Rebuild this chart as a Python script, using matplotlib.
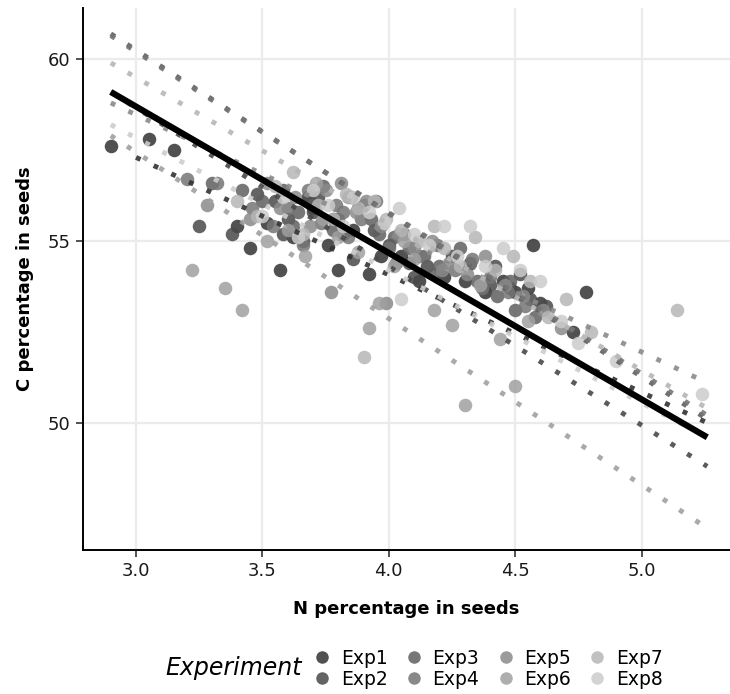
import matplotlib
matplotlib.use("Agg")
import matplotlib.pyplot as plt
from matplotlib.lines import Line2D

# experiments and their grey shades
experiments = ["Exp1", "Exp2", "Exp3", "Exp4", "Exp5", "Exp6", "Exp7", "Exp8"]
greys = ["#333333", "#494949", "#5f5f5f", "#757575", "#8a8a8a", "#a0a0a0", "#b6b6b6", "#cccccc"]

# seed N (%) and C (%) per experiment
exp1_n = [2.90, 3.05, 3.15, 3.40, 3.45, 3.57, 3.62, 3.70, 3.76, 3.80, 3.86, 3.92, 3.97, 4.05,
          4.12, 4.22, 4.30, 4.38, 4.45, 4.50, 4.55, 4.57, 4.60, 4.73, 4.78, 3.68, 3.52]
exp1_c = [57.6, 57.8, 57.5, 55.4, 54.8, 54.2, 55.1, 55.9, 54.9, 54.2, 55.3, 54.1, 54.6, 54.6,
          53.9, 54.0, 53.9, 53.6, 53.9, 53.6, 53.7, 54.9, 53.3, 52.5, 53.6, 56.2, 55.5]
exp2_n = [3.25, 3.38, 3.48, 3.55, 3.60, 3.66, 3.72, 3.78, 3.82, 3.88, 3.94, 4.00, 4.08, 4.15,
          4.25, 4.32, 4.40, 4.48, 4.52, 4.56, 4.62, 3.58, 3.70, 3.86, 4.10, 4.42]
exp2_c = [55.4, 55.2, 56.3, 56.1, 55.6, 55.0, 56.2, 55.6, 55.2, 55.9, 55.3, 54.9, 54.4, 54.3,
          54.6, 54.4, 53.8, 53.7, 54.1, 53.4, 53.2, 55.2, 55.8, 54.5, 54.0, 54.3]
exp3_n = [3.30, 3.42, 3.50, 3.58, 3.64, 3.70, 3.74, 3.80, 3.85, 3.90, 3.96, 4.02, 4.08, 4.14,
          4.20, 4.28, 4.35, 4.43, 4.50, 4.58, 3.62, 3.78, 3.93, 4.18, 4.48]
exp3_c = [56.6, 56.4, 56.1, 56.4, 55.8, 56.0, 56.5, 55.6, 56.2, 56.0, 55.2, 55.1, 54.8, 54.6,
          54.3, 54.8, 53.9, 53.5, 53.1, 52.9, 55.4, 55.3, 55.6, 54.1, 53.9]
exp4_n = [3.20, 3.32, 3.46, 3.54, 3.60, 3.68, 3.73, 3.79, 3.84, 3.89, 3.95, 4.00, 4.06, 4.12,
          4.19, 4.26, 4.33, 4.40, 4.47, 4.54, 3.66, 3.82, 4.03, 4.37]
exp4_c = [56.7, 56.6, 55.9, 55.4, 55.9, 56.4, 55.5, 56.0, 55.1, 55.6, 56.1, 54.8, 55.2, 54.6,
          54.9, 54.2, 54.5, 54.0, 53.6, 53.2, 54.9, 55.8, 54.4, 53.7]
exp5_n = [3.28, 3.45, 3.52, 3.57, 3.63, 3.69, 3.75, 3.81, 3.87, 3.91, 3.97, 4.04, 4.10, 4.17,
          4.24, 4.31, 4.38, 4.46, 4.53, 4.61, 4.68, 3.77, 3.99, 4.21]
exp5_c = [56.0, 55.6, 56.6, 55.9, 56.2, 55.4, 56.4, 56.6, 55.8, 56.1, 55.4, 55.2, 54.8, 55.0,
          54.4, 54.1, 54.6, 53.8, 53.5, 53.1, 52.6, 53.6, 53.3, 54.2]
exp6_n = [3.22, 3.35, 3.42, 3.52, 3.60, 3.67, 3.74, 3.80, 3.88, 3.92, 3.96, 4.02, 4.10, 4.18,
          4.25, 4.30, 4.36, 4.44, 4.50, 4.55, 3.71, 3.84, 4.06]
exp6_c = [54.2, 53.7, 53.1, 55.0, 55.3, 54.6, 55.6, 55.1, 54.7, 52.6, 53.3, 54.3, 54.5, 53.1,
          52.7, 50.5, 53.8, 52.3, 51.0, 52.8, 56.6, 56.2, 55.0]
exp7_n = [3.40, 3.48, 3.55, 3.62, 3.66, 3.72, 3.78, 3.83, 3.88, 3.94, 3.99, 4.05, 4.12, 4.18,
          4.22, 4.28, 4.34, 4.42, 4.49, 4.56, 4.63, 4.70, 4.80, 5.14, 3.90]
exp7_c = [56.1, 55.7, 56.5, 56.9, 55.2, 56.0, 55.6, 56.3, 55.9, 56.1, 55.6, 55.3, 55.0, 55.4,
          54.8, 54.3, 55.1, 54.2, 54.6, 53.9, 52.9, 53.4, 52.5, 53.1, 51.8]
exp8_n = [3.50, 3.58, 3.64, 3.70, 3.76, 3.82, 3.86, 3.92, 3.98, 4.04, 4.10, 4.16, 4.22, 4.27,
          4.32, 4.38, 4.45, 4.52, 4.60, 4.68, 4.75, 4.90, 5.24, 4.05]
exp8_c = [55.7, 56.2, 55.1, 56.4, 56.0, 55.4, 56.2, 55.8, 55.5, 55.9, 55.2, 54.9, 55.4, 54.6,
          55.4, 54.3, 54.8, 54.2, 53.9, 52.8, 52.2, 51.7, 50.8, 53.4]

n_values = [exp1_n, exp2_n, exp3_n, exp4_n, exp5_n, exp6_n, exp7_n, exp8_n]
c_values = [exp1_c, exp2_c, exp3_c, exp4_c, exp5_c, exp6_c, exp7_c, exp8_c]

# per-experiment fitted lines (end points)
fit_x0 = [3.00, 2.90, 2.90, 2.90, 2.90, 2.90, 2.90, 2.90]
fit_x1 = [5.26, 5.26, 5.26, 5.26, 5.26, 5.26, 5.26, 5.26]
fit_y0 = [57.3, 59.1, 60.7, 60.65, 58.8, 57.9, 59.9, 58.2]
fit_y1 = [50.0, 48.8, 50.1, 50.2, 51.1, 47.1, 50.4, 49.6]

# overall fit
all_x = [2.90, 5.26]
all_y = [59.1, 49.6]

plt.rcParams["font.family"] = ["DejaVu Sans"]

fig = plt.figure(figsize=(7.3, 6.94), dpi=100)
ax = fig.add_axes([83 / 730, 144 / 694, 647 / 730, 542 / 694])

for i, exp in enumerate(experiments):
    ax.scatter(n_values[i], c_values[i], s=95, color=greys[i], alpha=0.85,
               linewidths=0, zorder=3)

for i, exp in enumerate(experiments):
    ax.plot([fit_x0[i], fit_x1[i]], [fit_y0[i], fit_y1[i]], color=greys[i],
            lw=3.5, linestyle=(0, (1, 3.0)), dash_capstyle="butt", alpha=0.9, zorder=4)

ax.plot(all_x, all_y, color="black", lw=4.5, solid_capstyle="butt", zorder=5)

ax.set_xlim(2.79, 5.35)
ax.set_ylim(46.5, 61.41)
ax.set_xticks([3.0, 3.5, 4.0, 4.5, 5.0])
ax.set_xticklabels(["3.0", "3.5", "4.0", "4.5", "5.0"])
ax.set_yticks([50, 55, 60])
ax.grid(True, color="#ebebeb", lw=1.6, zorder=0)
ax.set_axisbelow(True)
for side in ["top", "right"]:
    ax.spines[side].set_visible(False)
for side in ["left", "bottom"]:
    ax.spines[side].set_linewidth(1.4)
    ax.spines[side].set_color("black")
ax.tick_params(axis="both", length=5, width=1.2, color="#333333",
               labelsize=13, labelcolor="#1a1a1a", pad=4)

ax.set_xlabel("N percentage in seeds", fontsize=13, fontweight="bold", labelpad=14)
ax.set_ylabel("C percentage in seeds", fontsize=13, fontweight="bold", labelpad=10)

# legend at the bottom, title to the left
handles = [Line2D([], [], marker="o", linestyle="", markersize=9, color=greys[i],
                  alpha=0.85, markeredgewidth=0) for i in range(len(experiments))]
fig.legend(handles, experiments, loc="center", bbox_to_anchor=(0.668, 0.0365), ncol=4,
           frameon=False, fontsize=13.5, handlelength=1.0, handletextpad=0.5,
           columnspacing=0.9, labelspacing=0.12, borderpad=0)
fig.text(0.413, 0.0375, "Experiment", fontsize=17, style="italic", ha="right", va="center")

fig.savefig("out.png", dpi=100)
